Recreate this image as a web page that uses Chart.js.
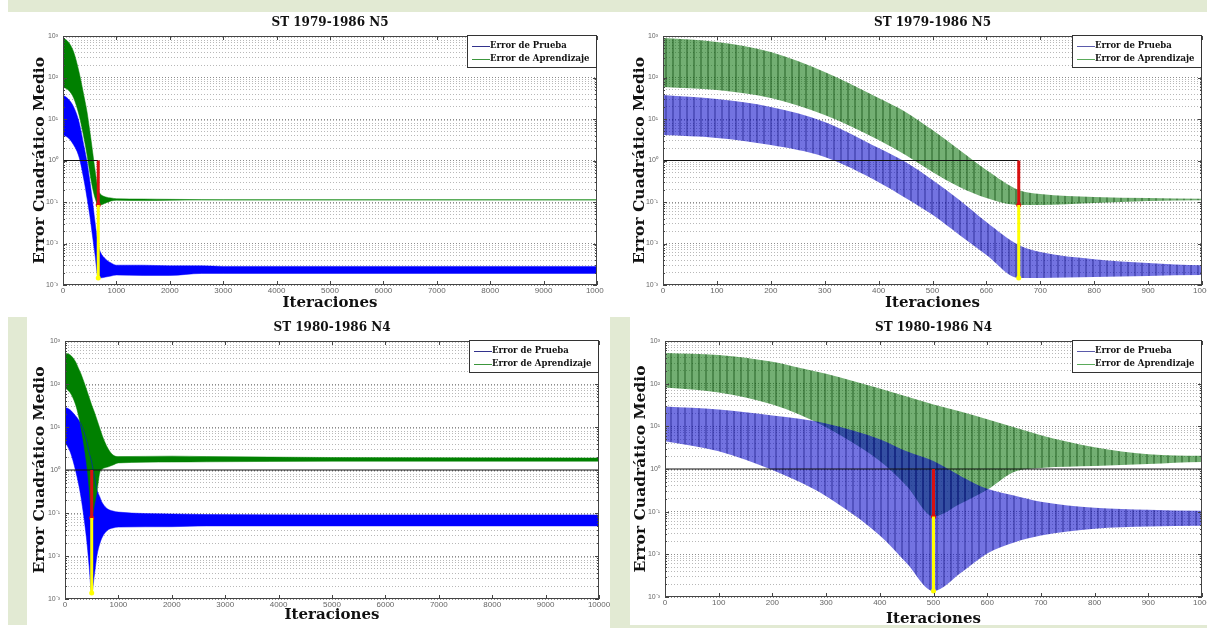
<!DOCTYPE html>
<html lang="es">
<head>
<meta charset="UTF-8">
<title>Error Cuadrático Medio</title>
<script src="https://cdn.jsdelivr.net/npm/chart.js"></script>
<style>
  body { margin: 0; width: 1207px; height: 628px; position: relative; overflow: hidden; background: #fff; }
  #fondo { position: absolute; left: 8px; top: 0; width: 1199px; height: 625px; background: #e2ead3; }
  .panel { position: absolute; background: #fff; }
  #franja { position: absolute; left: 610px; top: 625px; width: 597px; height: 3px; background: #e2ead3; }
</style>
</head>
<body>
<div id="fondo"></div>
<div class="panel" style="left:8px;top:12px;width:596px;height:305px"><canvas id="c1"></canvas></div>
<div class="panel" style="left:604px;top:12px;width:603px;height:305px"><canvas id="c2"></canvas></div>
<div class="panel" style="left:27px;top:317px;width:583px;height:311px"><canvas id="c3"></canvas></div>
<div class="panel" style="left:630px;top:317px;width:577px;height:311px"><canvas id="c4"></canvas></div>
<div id="franja"></div>

<script>
// ST 1979-1986 N5 : envolventes (max / min) de la oscilacion
const iterN5 = [0, 100, 200, 300, 400, 450, 500, 550, 600, 660, 700, 800, 900, 1000, 1500, 2000, 2600, 3000, 5000, 7000, 10000];
const aprendN5Max = [895, 717, 411, 136, 32, 14.8, 5.4, 1.79, 0.59, 0.195, 0.156, 0.132, 0.125, 0.12, 0.118, 0.116, 0.114, 0.113, 0.113, 0.113, 0.113];
const aprendN5Min = [59, 50, 32, 12.5, 3.1, 1.36, 0.53, 0.23, 0.125, 0.085, 0.085, 0.095, 0.106, 0.11, 0.108, 0.11, 0.112, 0.112, 0.112, 0.112, 0.112];
const pruebaN5Max = [37.8, 30.3, 19.5, 8.5, 2.0, 0.92, 0.34, 0.112, 0.033, 0.0092, 0.0062, 0.0042, 0.0034, 0.0030, 0.0030, 0.0029, 0.0029, 0.0028, 0.0028, 0.0028, 0.0028];
const pruebaN5Min = [4.1, 3.5, 2.36, 1.21, 0.30, 0.125, 0.049, 0.016, 0.0053, 0.00148, 0.00148, 0.00156, 0.00165, 0.00174, 0.0017, 0.0017, 0.0019, 0.0019, 0.0019, 0.0019, 0.0019];

// ST 1980-1986 N4
const iterN4 = [0, 100, 200, 250, 300, 400, 450, 500, 550, 600, 650, 700, 800, 900, 1000, 2000, 2650, 5000, 10000];
const aprendN4Max = [526, 472, 325, 236, 171, 77, 50, 32.5, 22.3, 14.6, 9.5, 6.2, 3.25, 2.23, 2.05, 2.1, 2.05, 1.95, 1.9];
const aprendN4Min = [81, 62, 32.5, 19, 9.5, 1.53, 0.40, 0.077, 0.153, 0.325, 0.85, 1.05, 1.17, 1.31, 1.46, 1.53, 1.55, 1.6, 1.6];
const pruebaN4Max = [29, 24.8, 18, 15, 11.7, 5.0, 2.6, 1.53, 0.69, 0.343, 0.24, 0.171, 0.124, 0.111, 0.105, 0.095, 0.092, 0.09, 0.09];
const pruebaN4Min = [4.5, 2.6, 0.95, 0.5, 0.23, 0.0277, 0.0062, 0.00138, 0.0036, 0.0105, 0.019, 0.0277, 0.040, 0.045, 0.047, 0.048, 0.05, 0.05, 0.05];

// marcas: iteracion del minimo, error de aprendizaje y de prueba en ese punto
const marcaIter = { N5: 660, N4: 500 };
const marcaAprend = { N5: 0.085, N4: 0.077 };
const marcaPrueba = { N5: 0.00148, N4: 0.00138 };
const finLineaRef = { N5: 660, N4: 10000 };

const decadas = [1e-3, 1e-2, 1e-1, 1, 10, 100, 1000];
const etiquetas = ['Error de Prueba', 'Error de Aprendizaje'];

const redes = {
  N5: { iter: iterN5, aMax: aprendN5Max, aMin: aprendN5Min, pMax: pruebaN5Max, pMin: pruebaN5Min },
  N4: { iter: iterN4, aMax: aprendN4Max, aMin: aprendN4Min, pMax: pruebaN4Max, pMin: pruebaN4Min }
};

const paneles = [
  { canvas: 'c1', titulo: 'ST 1979-1986 N5', red: 'N5', xMax: 10000, paso: 1000, zoom: false, yW: 55, padR: 7, xH: 32, yT: 23, xT: 5 },
  { canvas: 'c2', titulo: 'ST 1979-1986 N5', red: 'N5', xMax: 1000, paso: 100, zoom: true, yW: 59, padR: 5, xH: 32, yT: 27, xT: 5 },
  { canvas: 'c3', titulo: 'ST 1980-1986 N4', red: 'N4', xMax: 10000, paso: 1000, zoom: false, yW: 38, padR: 11, xH: 29, yT: 4, xT: 4 },
  { canvas: 'c4', titulo: 'ST 1980-1986 N4', red: 'N4', xMax: 1000, paso: 100, zoom: true, yW: 35, padR: 5, xH: 31, yT: 2, xT: 0 }
];

const serif = '"DejaVu Serif"';

const ticksY = [];
decadas.forEach((d, i) => {
  ticksY.push(d);
  if (i < decadas.length - 1) for (let k = 2; k <= 9; k++) ticksY.push(+(d * k).toPrecision(3));
});

function esDecada(v) {
  const e = Math.log10(v);
  return Math.abs(e - Math.round(e)) < 1e-9;
}
const sup = { '-': '⁻', '0': '⁰', '1': '¹', '2': '²', '3': '³' };
function etiquetaLog(v) {
  if (!esDecada(v)) return '';
  return '10' + String(Math.round(Math.log10(v))).split('').map(c => sup[c]).join('');
}

// relleno rayado y semitransparente para las bandas ampliadas
function rayas(base, oscuro) {
  const c = document.createElement('canvas');
  c.width = 7; c.height = 1;
  const g = c.getContext('2d');
  g.fillStyle = base; g.fillRect(0, 0, 5, 1);
  g.fillStyle = oscuro; g.fillRect(5, 0, 2, 1);
  return g.createPattern(c, 'repeat');
}

const marco = {
  id: 'marco',
  afterDatasetsDraw(chart, args, opts) {
    const { ctx, chartArea: a, scales: { x, y } } = chart;
    ctx.save();
    ctx.strokeStyle = '#444';
    ctx.lineWidth = 1;
    ctx.strokeRect(a.left + 0.5, a.top + 0.5, a.right - a.left - 1, a.bottom - a.top - 1);
    ctx.beginPath();
    x.ticks.forEach(t => {
      const px = Math.round(x.getPixelForValue(t.value)) + 0.5;
      ctx.moveTo(px, a.bottom); ctx.lineTo(px, a.bottom - 4);
      ctx.moveTo(px, a.top); ctx.lineTo(px, a.top + 4);
    });
    y.ticks.forEach(t => {
      const py = Math.round(y.getPixelForValue(t.value)) + 0.5;
      const l = esDecada(t.value) ? 4 : 2;
      ctx.moveTo(a.left, py); ctx.lineTo(a.left + l, py);
      ctx.moveTo(a.right, py); ctx.lineTo(a.right - l, py);
    });
    ctx.stroke();

    ctx.fillStyle = '#111';
    ctx.font = 'bold 12px ' + serif;
    ctx.textAlign = 'center';
    ctx.textBaseline = 'middle';
    ctx.fillText(opts.titulo, (a.left + a.right) / 2, 11);

    // leyenda
    const w = 130, h = 33, lx = a.right - w, ly = a.top - 1;
    ctx.fillStyle = '#fff';
    ctx.fillRect(lx, ly, w, h);
    ctx.strokeStyle = '#333';
    ctx.strokeRect(lx + 0.5, ly + 0.5, w - 1, h - 1);
    ctx.font = 'bold 8.5px ' + serif;
    ctx.textAlign = 'left';
    opts.items.forEach((it, i) => {
      const yy = ly + 11 + i * 13;
      ctx.strokeStyle = it.color;
      ctx.beginPath(); ctx.moveTo(lx + 5, yy + 0.5); ctx.lineTo(lx + 23, yy + 0.5); ctx.stroke();
      ctx.fillStyle = '#111';
      ctx.fillText(it.text, lx + 23, yy);
    });
    ctx.restore();
  }
};

paneles.forEach(p => {
  const r = redes[p.red];
  const pts = vals => r.iter.map((it, i) => ({ x: it, y: vals[i] }));
  const m = marcaIter[p.red];
  const verde = p.zoom ? rayas('rgba(0,110,0,0.55)', 'rgba(0,85,0,0.7)') : 'rgb(0,128,0)';
  const azul = p.zoom ? rayas('rgba(0,0,200,0.55)', 'rgba(0,0,160,0.68)') : 'rgb(0,0,255)';
  const banda = { pointRadius: 0, borderWidth: p.zoom ? 0 : 0.5, cubicInterpolationMode: 'monotone' };

  const bandaVerde = [
    { ...banda, label: etiquetas[1], data: pts(r.aMax), borderColor: verde, backgroundColor: verde, fill: '+1' },
    { ...banda, label: etiquetas[1] + ' min', data: pts(r.aMin), borderColor: verde, fill: false }
  ];
  const bandaAzul = [
    { ...banda, label: etiquetas[0], data: pts(r.pMax), borderColor: azul, backgroundColor: azul, fill: '+1' },
    { ...banda, label: etiquetas[0] + ' min', data: pts(r.pMin), borderColor: azul, fill: false }
  ];
  // el primer conjunto se dibuja encima
  const bandas = p.zoom ? [...bandaAzul, ...bandaVerde] : [...bandaVerde, ...bandaAzul];

  new Chart(document.getElementById(p.canvas), {
    type: 'line',
    data: {
      datasets: [
        { label: 'marca prueba', data: [{ x: m, y: marcaAprend[p.red] }, { x: m, y: marcaPrueba[p.red] }], borderColor: '#ffff00', borderWidth: 3, pointRadius: [0, 2.5], pointBackgroundColor: '#ffff00', pointBorderWidth: 0, fill: false },
        { label: 'marca aprendizaje', data: [{ x: m, y: 1 }, { x: m, y: marcaAprend[p.red] }], borderColor: '#d81010', borderWidth: 3, pointRadius: [0, 2.5], pointBackgroundColor: '#d81010', pointBorderWidth: 0, fill: false },
        { label: 'referencia', data: [{ x: 0, y: 1 }, { x: finLineaRef[p.red], y: 1 }], borderColor: '#111', borderWidth: 1, pointRadius: 0, fill: false },
        ...bandas
      ]
    },
    options: {
      responsive: true,
      maintainAspectRatio: false,
      animation: false,
      layout: { padding: { top: 24, right: p.padR, left: 0, bottom: 0 } },
      plugins: {
        legend: { display: false },
        tooltip: { enabled: false },
        filler: { drawTime: 'beforeDatasetsDraw' },
        marco: {
          titulo: p.titulo,
          items: [
            { text: etiquetas[0], color: p.zoom ? 'rgb(90,90,170)' : 'rgb(50,50,140)' },
            { text: etiquetas[1], color: p.zoom ? 'rgb(90,170,90)' : 'rgb(60,150,60)' }
          ]
        }
      },
      scales: {
        x: {
          type: 'linear', min: 0, max: p.xMax,
          grid: { display: false, drawTicks: false },
          border: { display: false },
          ticks: { stepSize: p.paso, autoSkip: false, maxRotation: 0, padding: 1, color: '#666', font: { family: 'Liberation Sans', size: 8 }, callback: v => String(v) },
          title: { display: true, text: 'Iteraciones', color: '#111', padding: { top: 0, bottom: p.xT }, font: { family: serif, weight: 'bold', size: 15, lineHeight: 1.2 } },
          afterFit: s => { s.height = p.xH; s.paddingLeft = 0; s.paddingRight = 0; }
        },
        y: {
          type: 'logarithmic', min: 1e-3, max: 1e3,
          afterBuildTicks: s => { s.ticks = ticksY.map(v => ({ value: v })); },
          grid: { drawTicks: false, lineWidth: 1, color: c => esDecada(c.tick.value) ? 'rgba(0,0,0,0.45)' : 'rgba(0,0,0,0.28)' },
          border: { display: false, dash: [1, 2] },
          ticks: { autoSkip: false, padding: 5, color: '#666', font: { family: 'Liberation Sans', size: 7 }, callback: v => etiquetaLog(v) },
          title: { display: true, text: 'Error Cuadrático Medio', color: '#111', padding: { top: p.yT, bottom: 0 }, font: { family: serif, weight: 'bold', size: 15.5, lineHeight: 1.2 } },
          afterFit: s => { s.width = p.yW; s.paddingTop = 0; s.paddingBottom = 0; }
        }
      }
    },
    plugins: [marco]
  });
});
</script>
</body>
</html>
